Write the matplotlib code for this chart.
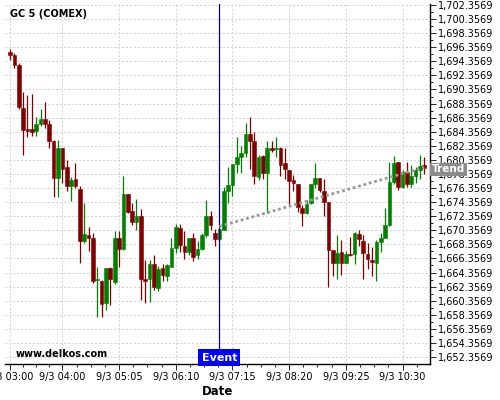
import numpy as np
import matplotlib
matplotlib.use("Agg")
import matplotlib.pyplot as plt
from matplotlib.ticker import FuncFormatter, FixedLocator
import matplotlib.transforms as mtransforms

# 5 minute candles, 9/3 03:00 .. 10:55
opens = [1695.64, 1695.26, 1693.84, 1687.73, 1684.7, 1684.7, 1684.46, 1685.46, 1686.17, 1685.46,
         1683.07, 1677.84, 1682.0, 1679.35, 1676.7, 1677.65, 1676.23, 1668.87, 1669.64, 1669.26,
         1663.3, 1663.2, 1660.08, 1664.96, 1663.07, 1669.2, 1667.7, 1675.5, 1673.1, 1671.5,
         1672.35, 1663.4, 1663.4, 1665.6, 1662.2, 1664.99, 1663.8, 1665.2, 1667.9, 1670.66,
         1668.12, 1667.3, 1669.3, 1666.86, 1667.75, 1669.7, 1672.4, 1670.0, 1669.05, 1670.46,
         1676.0, 1676.84, 1679.8, 1680.7, 1681.4, 1684.1, 1683.04, 1677.97, 1680.9, 1678.5,
         1682.0, 1681.86, 1682.0, 1679.96, 1678.9, 1677.5, 1676.9, 1673.57, 1672.86, 1674.27,
         1676.9, 1677.8, 1675.94, 1674.4, 1667.5, 1665.76, 1667.28, 1665.76, 1667.04, 1667.04,
         1669.84, 1668.84, 1667.0, 1666.14, 1665.7, 1668.7, 1669.3, 1671.06, 1677.17, 1680.0,
         1676.55, 1678.6, 1676.94, 1678.07, 1678.9, 1679.6]
highs = [1696.06, 1695.5, 1694.08, 1689.96, 1689.58, 1689.7, 1686.4, 1687.54, 1688.58, 1686.0,
         1683.2, 1683.2, 1682.0, 1680.3, 1677.9, 1679.87, 1676.7, 1674.2, 1670.8, 1669.9,
         1665.1, 1663.3, 1664.96, 1665.2, 1670.3, 1670.3, 1678.07, 1675.5, 1674.2, 1674.85,
         1673.4, 1666.1, 1666.1, 1666.9, 1665.3, 1665.5, 1665.6, 1669.2, 1671.3, 1671.3,
         1670.2, 1669.3, 1669.9, 1668.8, 1669.9, 1674.6, 1673.15, 1670.6, 1670.6, 1676.56,
         1679.4, 1679.8, 1683.56, 1682.3, 1685.6, 1686.5, 1684.37, 1681.0, 1681.0, 1683.0,
         1683.0, 1683.56, 1682.15, 1682.0, 1678.9, 1678.2, 1676.9, 1673.95, 1674.65, 1676.9,
         1679.87, 1677.8, 1677.7, 1674.4, 1667.5, 1669.7, 1668.98, 1667.47, 1669.36, 1670.16,
         1670.4, 1669.7, 1668.6, 1667.96, 1668.98, 1669.95, 1673.5, 1680.0, 1680.96, 1680.0,
         1678.95, 1680.0, 1679.6, 1679.3, 1681.06, 1680.8]
lows = [1694.55, 1693.4, 1687.55, 1681.0, 1683.67, 1683.8, 1683.8, 1685.1, 1684.9, 1682.0,
        1675.04, 1675.04, 1677.1, 1675.94, 1674.45, 1676.3, 1665.7, 1668.5, 1667.4, 1662.9,
        1658.0, 1658.0, 1659.1, 1659.8, 1662.7, 1665.2, 1667.56, 1672.8, 1671.1, 1670.4,
        1660.46, 1660.0, 1660.1, 1661.9, 1661.8, 1663.2, 1663.2, 1665.1, 1667.1, 1667.3,
        1666.3, 1666.9, 1666.05, 1666.3, 1667.56, 1669.4, 1670.4, 1668.1, 1668.9, 1670.4,
        1674.2, 1675.2, 1678.45, 1678.5, 1680.8, 1679.0, 1676.9, 1677.5, 1677.65, 1672.77,
        1681.5, 1680.8, 1678.1, 1677.7, 1674.1, 1676.0, 1673.0, 1670.97, 1672.67, 1674.1,
        1676.3, 1675.85, 1672.4, 1662.25, 1663.8, 1663.5, 1663.96, 1665.67, 1666.7, 1665.57,
        1668.1, 1663.4, 1664.8, 1663.87, 1663.2, 1667.3, 1669.2, 1670.9, 1677.0, 1676.1,
        1676.3, 1676.55, 1676.55, 1677.12, 1677.6, 1678.3]
closes = [1695.31, 1693.89, 1687.92, 1684.6, 1684.45, 1684.3, 1685.46, 1686.17, 1685.5, 1683.1,
          1677.84, 1682.0, 1679.1, 1676.7, 1677.55, 1676.6, 1668.87, 1669.83, 1669.3, 1663.2,
          1663.4, 1659.94, 1664.96, 1663.4, 1669.2, 1667.7, 1675.5, 1673.0, 1671.5, 1672.35,
          1663.4, 1663.2, 1665.6, 1662.3, 1664.9, 1663.96, 1665.46, 1667.8, 1670.8, 1668.2,
          1667.3, 1669.3, 1666.6, 1667.7, 1669.64, 1672.4, 1671.1, 1669.05, 1670.5, 1675.94,
          1676.8, 1679.8, 1680.7, 1681.4, 1684.1, 1683.1, 1678.1, 1680.7, 1678.5, 1682.0,
          1681.8, 1682.0, 1679.6, 1679.1, 1677.3, 1677.1, 1673.6, 1672.86, 1674.1, 1676.9,
          1677.8, 1676.08, 1674.33, 1667.5, 1665.76, 1667.1, 1665.76, 1666.95, 1666.85, 1670.0,
          1669.1, 1667.1, 1666.24, 1665.9, 1668.7, 1669.2, 1671.06, 1677.17, 1679.87, 1676.55,
          1678.6, 1676.94, 1678.07, 1678.9, 1679.47, 1679.26]

tick_pos = [0, 12, 25, 38, 51, 64, 77, 90]
tick_labels = ["9/3 03:00", "9/3 04:00", "9/3 05:05", "9/3 06:10",
               "9/3 07:15", "9/3 08:20", "9/3 09:25", "9/3 10:30"]
event_idx = 48
trend_x = [48, 95]
trend_y = [1670.9, 1679.3]

o = np.array(opens)
h = np.array(highs)
l = np.array(lows)
c = np.array(closes)
x = np.arange(len(o))
up = c >= o
colors = np.where(up, "#008000", "#800000")

fig = plt.figure(figsize=(5, 4), dpi=100)
ax = fig.add_axes([0.01, 0.09, 0.85, 0.90])

ax.set_xlim(-1.15, 96.3)
ax.set_ylim(1651.36, 1702.5)

# grid
ax.set_yticks(np.arange(1652.3569, 1703, 2))
ax.yaxis.set_minor_locator(FixedLocator(np.arange(1653.3569, 1703, 2)))
ax.xaxis.set_major_locator(FixedLocator(tick_pos))
minors = [3, 6, 9] + [p + k * 3.25 for p in tick_pos[1:] for k in (1, 2, 3)]
ax.xaxis.set_minor_locator(FixedLocator([m for m in minors if m < 96.3]))
ax.set_xticklabels(tick_labels)
ax.grid(True, which="major", color="#d0d0d0", linestyle=(0, (2, 2)), linewidth=0.7)
ax.set_axisbelow(True)

# candles
ax.vlines(x, l, h, colors=colors, linewidth=0.9, zorder=2)
bottoms = np.minimum(o, c)
heights = np.maximum(np.abs(c - o), 0.12)
ax.bar(x, heights, bottom=bottoms, width=0.84, color=colors,
       edgecolor=colors, linewidth=0.4, zorder=3)

# event line and trend
ax.axvline(event_idx, color="#00008c", linewidth=0.9, zorder=4)
ax.plot(trend_x, trend_y, color="#9a9a9a", linestyle=(0, (1, 1)),
        linewidth=2, zorder=5)

ax.text(event_idx, 0.004, "Event", transform=mtransforms.blended_transform_factory(ax.transData, ax.transAxes),
        ha="center", va="bottom", color="white", fontsize=8, fontweight="bold",
        bbox=dict(boxstyle="square,pad=0.3", facecolor="#0000ff", edgecolor="none"), zorder=6)
ax.text(1.004, trend_y[-1] - 0.3, "Trend", transform=mtransforms.blended_transform_factory(ax.transAxes, ax.transData),
        ha="left", va="center", color="white", fontsize=7.5, fontweight="bold",
        bbox=dict(boxstyle="square,pad=0.15", facecolor="#8c8c8c", edgecolor="none"),
        zorder=6, clip_on=False)

ax.text(0.012, 0.985, "GC 5 (COMEX)", transform=ax.transAxes, ha="left", va="top",
        fontsize=7, fontweight="bold")
ax.text(0.024, 0.015, "www.delkos.com", transform=ax.transAxes, ha="left", va="bottom",
        fontsize=7, fontweight="bold")

# axes styling
ax.spines["left"].set_visible(False)
ax.spines["top"].set_visible(False)
ax.spines["right"].set_linewidth(1)
ax.spines["bottom"].set_linewidth(1)
ax.yaxis.tick_right()
ax.yaxis.set_major_formatter(FuncFormatter(lambda v, p: f"{v:,.4f}"))
ax.tick_params(axis="y", which="major", labelsize=7, length=4, width=0.6, pad=2)
ax.tick_params(axis="y", which="minor", length=2, width=0.6)
ax.tick_params(axis="x", which="major", labelsize=7, length=4, width=0.6, pad=2)
ax.tick_params(axis="x", which="minor", length=2, width=0.6)
ax.set_xlabel("Date", fontsize=8.5, fontweight="bold", labelpad=2)

fig.savefig("out.png", dpi=100)
